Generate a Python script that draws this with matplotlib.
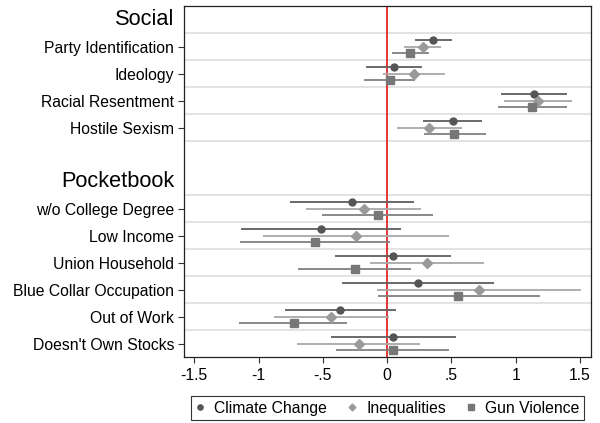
import numpy as np
import matplotlib
matplotlib.use("Agg")
import matplotlib.pyplot as plt

plt.rcParams['font.family'] = ['Liberation Sans', 'DejaVu Sans']

# rows from top to bottom, with the two group headings and one empty slot
rows = ["Social", "Party Identification", "Ideology", "Racial Resentment", "Hostile Sexism",
        "", "Pocketbook", "w/o College Degree", "Low Income", "Union Household",
        "Blue Collar Occupation", "Out of Work", "Doesn't Own Stocks"]
headers = ["Social", "Pocketbook"]
vars_ = ["Party Identification", "Ideology", "Racial Resentment", "Hostile Sexism",
         "w/o College Degree", "Low Income", "Union Household",
         "Blue Collar Occupation", "Out of Work", "Doesn't Own Stocks"]

climate = [0.36, 0.052, 1.145, 0.508, -0.275, -0.516, 0.044, 0.241, -0.365, 0.049]
climate_lo = [0.218, -0.168, 0.888, 0.275, -0.759, -1.137, -0.409, -0.355, -0.793, -0.44]
climate_hi = [0.503, 0.272, 1.401, 0.741, 0.207, 0.104, 0.497, 0.834, 0.065, 0.539]

ineq = [0.275, 0.212, 1.173, 0.329, -0.184, -0.244, 0.308, 0.715, -0.435, -0.223]
ineq_lo = [0.132, -0.031, 0.906, 0.078, -0.629, -0.969, -0.132, -0.078, -0.881, -0.699]
ineq_hi = [0.417, 0.453, 1.44, 0.58, 0.264, 0.479, 0.751, 1.51, 0.013, 0.254]

gun = [0.181, 0.018, 1.129, 0.523, -0.073, -0.562, -0.254, 0.554, -0.725, 0.044]
gun_lo = [0.039, -0.184, 0.865, 0.29, -0.508, -1.142, -0.697, -0.07, -1.15, -0.396]
gun_hi = [0.324, 0.218, 1.396, 0.767, 0.355, 0.021, 0.189, 1.186, -0.313, 0.484]

xticks = [-1.5, -1, -0.5, 0, 0.5, 1, 1.5]
xticklabels = ["-1.5", "-1", "-.5", "0", ".5", "1", "1.5"]

fig = plt.figure(figsize=(6, 4.23), dpi=100)
ax = fig.add_axes([0.3067, 0.156, 0.985 - 0.3067, 0.9858 - 0.156])

ypos = np.array([rows.index(v) for v in vars_], dtype=float)

# light separators between rows
for b in [0.5, 1.5, 2.5, 3.5, 4.5, 6.5, 7.5, 8.5, 9.5, 10.5, 11.5]:
    ax.axhline(b, color="#e3e3e3", lw=1.4, zorder=0)

ax.axvline(0, color="#e00000", lw=1.1, zorder=1)

series = [
    ("Climate Change", climate, climate_lo, climate_hi, -0.25, "o", 5, "#555555", "#5e5e5e"),
    ("Inequalities", ineq, ineq_lo, ineq_hi, 0.0, "D", 4.6, "#9a9a9a", "#a8a8a8"),
    ("Gun Violence", gun, gun_lo, gun_hi, 0.25, "s", 5.3, "#777777", "#808080"),
]
handles = []
for name, est, lo, hi, off, mk, ms, mc, lc in series:
    y = ypos + off
    ax.hlines(y, lo, hi, color=lc, lw=1.3, zorder=2)
    h, = ax.plot(est, y, linestyle="none", marker=mk, ms=ms, color=mc, zorder=3, label=name)
    handles.append(h)

ax.set_xlim(-1.58, 1.585)
ax.set_ylim(12.5, -0.5)
ax.set_xticks(xticks)
ax.set_xticklabels(xticklabels, fontsize=11.3)
ax.set_yticks(ypos)
ax.set_yticklabels(vars_, fontsize=11.3)
ax.tick_params(axis="both", direction="out", length=4, width=0.8, color="#333333")
ax.tick_params(axis="y", pad=3)
ax.tick_params(axis="x", pad=4)
for s in ax.spines.values():
    s.set_linewidth(0.9)
    s.set_color("#222222")

for h in headers:
    ax.annotate(h, xy=(0, rows.index(h)), xycoords=ax.get_yaxis_transform(),
                xytext=(-7.2, 0), textcoords="offset points",
                ha="right", va="center", fontsize=15.7)

leg = fig.legend(handles=handles, loc="center", bbox_to_anchor=(0.646, 0.035), ncol=3,
                 fontsize=11.3, frameon=True, fancybox=False, edgecolor="black",
                 handlelength=0.6, handletextpad=0.6, columnspacing=1.3, markerscale=0.75,
                 borderpad=0.3)
leg.get_frame().set_linewidth(0.8)

fig.savefig("out.png", dpi=100)
